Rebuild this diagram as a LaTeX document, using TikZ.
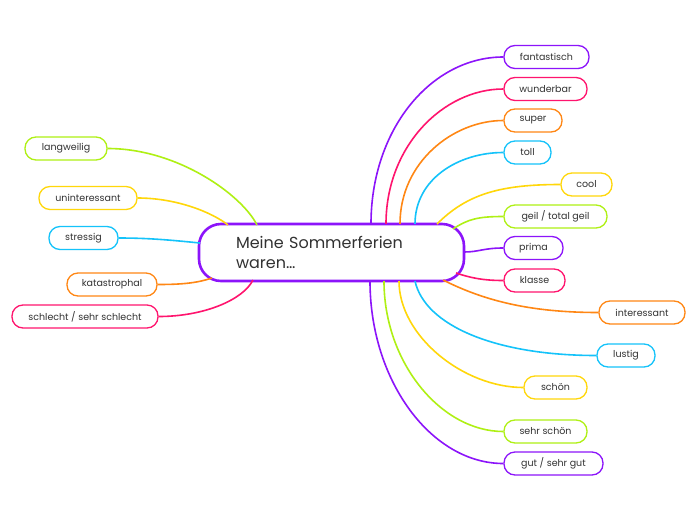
\documentclass[tikz,border=0pt]{standalone}
\usepackage{fontspec}
\setmainfont{Poppins}
\definecolor{cpurple}{RGB}{140,20,250}
\definecolor{cpink}{RGB}{255,20,110}
\definecolor{corange}{RGB}{255,135,20}
\definecolor{cblue}{RGB}{20,195,250}
\definecolor{cyellow}{RGB}{255,215,10}
\definecolor{cgreen}{RGB}{175,240,20}
\definecolor{txt}{RGB}{50,50,50}
\begin{document}
\begin{tikzpicture}[x=1pt,y=-1pt,
  leaf/.style={draw, rounded corners=11pt, minimum height=23pt, inner xsep=0pt, inner ysep=0pt,
    line width=1.3pt, fill=white, text=txt, font=\fontsize{9.5}{11}\selectfont},
  conn/.style={line width=1.6pt},
  hub/.style={draw=cpurple, line width=2.6pt, rounded corners=22pt, fill=white, text=txt,
    minimum width=265pt, minimum height=57pt, inner xsep=37pt, inner ysep=0pt,
    text width=191pt, align=left, font=\fontsize{16}{20}\selectfont}]
\path[fill=white] (0,0) rectangle (697,520);
\useasboundingbox (0,0) rectangle (697,520);

% central node
\node[hub] (hub) at (331.5,252.5) {Meine Sommerferien\\waren…};

% left nodes
\node[leaf, draw=cgreen,  minimum width=82pt]  (langweilig) at (66,148.5) {langweilig};
\node[leaf, draw=cyellow, minimum width=98pt]  (uninter) at (88,198) {uninteressant};
\node[leaf, draw=cblue,   minimum width=69pt]  (stressig) at (83.5,238) {stressig};
\node[leaf, draw=corange, minimum width=90pt]  (katastrophal) at (112,284.5) {katastrophal};
\node[leaf, draw=cpink,   minimum width=146pt] (schlecht) at (85,316.5) {schlecht / sehr schlecht};

% right nodes
\node[leaf, draw=cpurple, minimum width=85pt]  (fantastisch) at (546.5,57) {fantastisch};
\node[leaf, draw=cpink,   minimum width=83pt]  (wunderbar) at (545.5,89) {wunderbar};
\node[leaf, draw=corange, minimum width=58pt]  (super) at (533,120.5) {super};
\node[leaf, draw=cblue,   minimum width=47pt]  (toll) at (527.5,152.5) {toll};
\node[leaf, draw=cyellow, minimum width=51pt]  (cool) at (586.5,184.5) {cool};
\node[leaf, draw=cgreen,  minimum width=103pt] (geil) at (555.5,216.5) {geil / total geil};
\node[leaf, draw=cpurple, minimum width=59pt]  (prima) at (533.5,248) {prima};
\node[leaf, draw=cpink,   minimum width=61pt]  (klasse) at (534.5,280.5) {klasse};
\node[leaf, draw=corange, minimum width=86pt]  (interessant) at (642,312.5) {interessant};
\node[leaf, draw=cblue,   minimum width=58pt]  (lustig) at (626,355.5) {lustig};
\node[leaf, draw=cyellow, minimum width=63pt]  (schoen) at (555.5,387.5) {schön};
\node[leaf, draw=cgreen,  minimum width=83pt]  (sehrschoen) at (545.5,431.5) {sehr schön};
\node[leaf, draw=cpurple, minimum width=99pt]  (gut) at (553.5,463.5) {gut / sehr gut};

% start points on the central node
\coordinate (sLang) at (257,225);
\coordinate (sUnin) at (228,225);
\coordinate (sStre) at (200,243);
\coordinate (sKata) at (212,278);
\coordinate (sSchl) at (253,280);
\coordinate (sFant) at (371,224);
\coordinate (sWund) at (386,224);
\coordinate (sSupe) at (400,224);
\coordinate (sToll) at (415,224);
\coordinate (sCool) at (437,224);
\coordinate (sGeil) at (453,229);
\coordinate (sPrim) at (464,252);
\coordinate (sKlas) at (456,273);
\coordinate (sInte) at (443,280);
\coordinate (sLust) at (415,281);
\coordinate (sScho) at (399,281);
\coordinate (sSehr) at (384,281);
\coordinate (sGut)  at (370,281);

% connectors left
\draw[conn, cgreen]  (sLang) .. controls +(-15,-30) and +(70,0) .. (langweilig.east);
\draw[conn, cyellow] (sUnin) .. controls +(-15,-12) and +(40,0) .. (uninter.east);
\draw[conn, cblue]   (sStre) .. controls +(-30,-3) and +(30,0) .. (stressig.east);
\draw[conn, corange] (sKata) .. controls +(-15,5) and +(25,0) .. (katastrophal.east);
\draw[conn, cpink]   (sSchl) .. controls +(-10,20) and +(45,0) .. (schlecht.east);

% connectors right
\draw[conn, cpurple] (sFant) .. controls +(0,-95) and +(-72,0) .. (fantastisch.west);
\draw[conn, cpink]   (sWund) .. controls +(0,-78) and +(-60,0) .. (wunderbar.west);
\draw[conn, corange] (sSupe) .. controls +(0,-62) and +(-50,0) .. (super.west);
\draw[conn, cblue]   (sToll) .. controls +(0,-45) and +(-45,0) .. (toll.west);
\draw[conn, cyellow] (sCool) .. controls +(30,-30) and +(-60,0) .. (cool.west);
\draw[conn, cgreen]  (sGeil) .. controls +(15,-10) and +(-25,0) .. (geil.west);
\draw[conn, cpurple] (sPrim) .. controls +(15,0) and +(-20,0) .. (prima.west);
\draw[conn, cpink]   (sKlas) .. controls +(15,5) and +(-20,0) .. (klasse.west);
\draw[conn, corange] (sInte) .. controls +(40,20) and +(-70,0) .. (interessant.west);
\draw[conn, cblue]   (sLust) .. controls +(10,45) and +(-100,0) .. (lustig.west);
\draw[conn, cyellow] (sScho) .. controls +(0,55) and +(-60,0) .. (schoen.west);
\draw[conn, cgreen]  (sSehr) .. controls +(0,82) and +(-62,0) .. (sehrschoen.west);
\draw[conn, cpurple] (sGut)  .. controls +(0,100) and +(-72,0) .. (gut.west);
\end{tikzpicture}
\end{document}
